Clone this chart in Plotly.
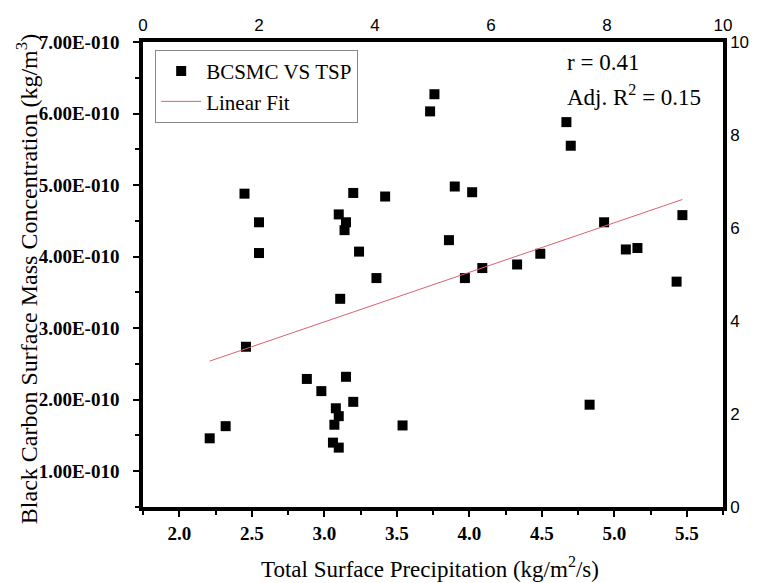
import plotly.graph_objects as go

# ---- data ----
tsp = [2.21, 2.32, 2.46, 2.45, 2.55, 2.55, 2.88, 2.98, 3.06, 3.10, 3.07, 3.08, 3.10,
       3.15, 3.20, 3.11, 3.10, 3.15, 3.14, 3.20, 3.24, 3.36, 3.42, 3.54, 3.73, 3.76,
       3.86, 3.90, 3.97, 4.02, 4.09, 4.33, 4.49, 4.67, 4.70, 4.83, 4.93, 5.08, 5.16,
       5.43, 5.47]
bcsmc = [1.46e-10, 1.63e-10, 2.74e-10, 4.88e-10, 4.48e-10, 4.05e-10, 2.29e-10, 2.12e-10,
         1.40e-10, 1.33e-10, 1.65e-10, 1.88e-10, 1.77e-10, 2.32e-10, 1.97e-10, 3.41e-10,
         4.59e-10, 4.48e-10, 4.37e-10, 4.89e-10, 4.07e-10, 3.70e-10, 4.84e-10, 1.64e-10,
         6.03e-10, 6.27e-10, 4.23e-10, 4.98e-10, 3.70e-10, 4.90e-10, 3.84e-10, 3.89e-10,
         4.04e-10, 5.88e-10, 5.55e-10, 1.93e-10, 4.48e-10, 4.10e-10, 4.12e-10, 3.65e-10,
         4.58e-10]
fit_x = [2.21, 5.47]
fit_intercept = 1.008e-10
fit_slope = 0.693e-10

y_ticks = [1e-10, 2e-10, 3e-10, 4e-10, 5e-10, 6e-10, 7e-10]
y_ticktext = ["1.00E-010", "2.00E-010", "3.00E-010", "4.00E-010", "5.00E-010",
              "6.00E-010", "7.00E-010"]
x_ticks = [2.0, 2.5, 3.0, 3.5, 4.0, 4.5, 5.0, 5.5]
sec_ticks = [0, 2, 4, 6, 8, 10]

serif = "Liberation Serif"
sans = "Liberation Sans"

fit_y = [fit_intercept + fit_slope * v for v in fit_x]

fig = go.Figure()
fig.add_trace(go.Scatter(
    x=tsp, y=bcsmc, mode="markers", name="BCSMC VS TSP",
    marker=dict(symbol="square", size=10, color="black"),
))
fig.add_trace(go.Scatter(
    x=fit_x, y=fit_y, mode="lines", name="Linear Fit",
    line=dict(color="#dd6070", width=1),
))
# placeholder trace to activate the secondary (top/right) axes
fig.add_trace(go.Scatter(
    x=[sec_ticks[0], sec_ticks[-1]], y=[sec_ticks[0], sec_ticks[-1]],
    xaxis="x2", yaxis="y2", mode="markers", marker=dict(opacity=0),
    showlegend=False, hoverinfo="skip",
))

fig.update_layout(
    width=761, height=583,
    margin=dict(l=143, r=38, t=42, b=76),
    paper_bgcolor="white", plot_bgcolor="white",
    showlegend=True,
    legend=dict(
        x=0.021, y=0.983, xanchor="left", yanchor="top",
        bordercolor="#888888", borderwidth=1, bgcolor="white",
        font=dict(family=serif, size=21, color="black"),
        itemwidth=40, tracegroupgap=0,
    ),
    xaxis=dict(
        range=[1.75, 5.75], tickmode="array", tickvals=x_ticks,
        ticktext=[f"<b>{v:.1f}</b>" for v in x_ticks],
        ticks="outside", ticklen=6, tickwidth=2, tickcolor="black",
        minor=dict(tickmode="linear", tick0=0, dtick=0.25, ticks="outside",
                   ticklen=4, tickwidth=2, tickcolor="black"),
        showline=True, linewidth=3.5, linecolor="black",
        showgrid=False, zeroline=False, ticklabelstandoff=0,
        tickfont=dict(family=serif, size=19, color="black"),
    ),
    yaxis=dict(
        range=[0.5e-10, 7e-10], tickmode="array", tickvals=y_ticks,
        ticktext=[f"<b>{t}</b>" for t in y_ticktext],
        ticks="outside", ticklen=6, tickwidth=2, tickcolor="black",
        minor=dict(tickmode="linear", tick0=0, dtick=0.5e-10, ticks="outside",
                   ticklen=4, tickwidth=2, tickcolor="black"),
        showline=True, linewidth=3.5, linecolor="black",
        showgrid=False, zeroline=False, ticklabelstandoff=10,
        tickfont=dict(family=serif, size=19, color="black"),
    ),
    xaxis2=dict(
        overlaying="x", side="top", range=[0, 10], tickmode="array",
        tickvals=sec_ticks, ticks="", showline=True, linewidth=3.5,
        linecolor="black", showgrid=False, zeroline=False,
        tickfont=dict(family=sans, size=17, color="black"),
    ),
    yaxis2=dict(
        overlaying="y", side="right", range=[0, 10], tickmode="array",
        tickvals=sec_ticks, ticks="", showline=True, linewidth=3.5,
        linecolor="black", showgrid=False, zeroline=False,
        tickfont=dict(family=sans, size=17, color="black"),
    ),
    annotations=[
        dict(text="r = 0.41", xref="paper", yref="paper", x=0.728, y=0.955,
             xanchor="left", yanchor="middle", showarrow=False,
             font=dict(family=serif, size=23, color="black")),
        dict(text="Adj. R<sup>2</sup> = 0.15", xref="paper", yref="paper",
             x=0.728, y=0.884, xanchor="left", yanchor="middle", showarrow=False,
             font=dict(family=serif, size=23, color="black")),
        dict(text="Total Surface Precipitation (kg/m<sup>2</sup>/s)",
             xref="paper", yref="paper", x=0.495, y=-0.131,
             xanchor="center", yanchor="middle", showarrow=False,
             font=dict(family=serif, size=23, color="black")),
        dict(text="Black Carbon Surface Mass Concentration (kg/m<sup>3</sup>)",
             xref="paper", yref="paper", x=-0.2, y=0.49, textangle=-90,
             xanchor="center", yanchor="middle", showarrow=False,
             font=dict(family=serif, size=24, color="black")),
    ],
)

fig.write_html("out.html")
